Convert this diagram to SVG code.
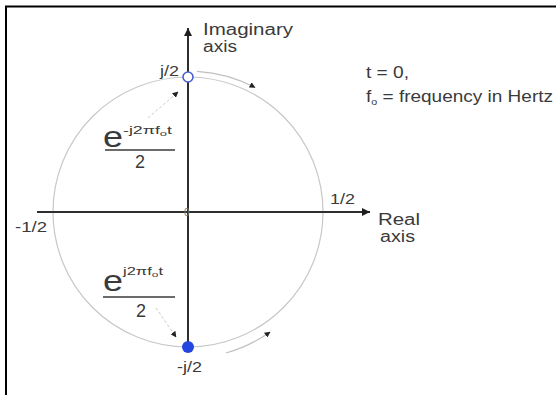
<svg xmlns="http://www.w3.org/2000/svg" width="556" height="395" viewBox="0 0 556 395">
<defs>
<style>
text{font-family:"Liberation Sans",Arial,sans-serif;fill:#3a3a3a}
.lbl{font-size:16px}
.sm{font-size:14px}
.circ{fill:none;stroke:#c8c8c8;stroke-width:1.2}
.arc{fill:none;stroke:#c0c0c0;stroke-width:1.2}
.axis{stroke:#2e2e2e;stroke-width:2;fill:none}
.lead{stroke:#cccccc;stroke-width:1;stroke-dasharray:3 2;fill:none}
.bar{stroke:#3a3a3a;stroke-width:1.5}
</style>
<marker id="ah" viewBox="0 0 10 10" refX="10" refY="5" markerWidth="14" markerHeight="8" markerUnits="userSpaceOnUse" orient="auto">
<path d="M0,0 L10,5 L0,10 Z" fill="#1e1e1e"/>
</marker>
<marker id="sa" viewBox="0 0 10 10" refX="9" refY="5" markerWidth="6" markerHeight="6" markerUnits="userSpaceOnUse" orient="auto">
<path d="M0,0 L10,5 L0,10 Z" fill="#222"/>
</marker>
</defs>
<rect width="556" height="395" fill="#fff"/>
<g id="frame">
<path d="M5,6.5 H556 M6,6 V395" stroke="#000" stroke-width="2" fill="none"/>
</g>
<g id="circle">
<circle class="circ" cx="188" cy="212" r="135"/>
</g>
<g id="connectors">
<line class="axis" x1="188" y1="347" x2="188" y2="28" marker-end="url(#ah)"/>
<line class="axis" x1="37" y1="212" x2="370" y2="212" marker-end="url(#ah)"/>
<path class="arc" d="M197,71.3 A141,141 0 0 1 255,87.5" marker-end="url(#sa)"/>
<path class="arc" d="M226,353 A145,145 0 0 0 270,332" marker-end="url(#sa)"/>
<path class="lead" d="M148,118 L178,92" marker-end="url(#sa)"/>
<path class="lead" d="M156,308 L176,337" marker-end="url(#sa)"/>
</g>
<g id="point-top">
<circle cx="188" cy="77" r="5" fill="#fff" stroke="#4a5fcf" stroke-width="1.6"/>
<text class="sm" x="160" y="76" textLength="19" lengthAdjust="spacingAndGlyphs">j/2</text>
</g>
<g id="point-bottom">
<circle cx="188" cy="347" r="6" fill="#2446e0"/>
<text class="sm" x="177" y="372" textLength="25" lengthAdjust="spacingAndGlyphs">-j/2</text>
</g>
<g id="imag-label">
<text class="lbl" x="203" y="35" textLength="90" lengthAdjust="spacingAndGlyphs">Imaginary</text>
<text class="lbl" x="203" y="52" textLength="34" lengthAdjust="spacingAndGlyphs">axis</text>
</g>
<g id="real-label">
<text class="lbl" x="378" y="225" textLength="42" lengthAdjust="spacingAndGlyphs">Real</text>
<text class="lbl" x="380" y="242" textLength="35" lengthAdjust="spacingAndGlyphs">axis</text>
</g>
<g id="ticks">
<text class="sm" x="15" y="232" textLength="32" lengthAdjust="spacingAndGlyphs">-1/2</text>
<text class="sm" x="330" y="204" textLength="25" lengthAdjust="spacingAndGlyphs">1/2</text>
<text x="184" y="216" style="font-size:10px;fill:#777">0</text>
</g>
<g id="notes">
<text class="lbl" x="366" y="78" textLength="43" lengthAdjust="spacingAndGlyphs">t = 0,</text>
<text class="lbl" x="366" y="102" textLength="187" lengthAdjust="spacingAndGlyphs">f<tspan dy="3" style="font-size:9px">o</tspan><tspan dy="-3"> = frequency in Hertz</tspan></text>
</g>
<g id="frac-top">
<text x="103" y="147" style="font-size:30px" textLength="20" lengthAdjust="spacingAndGlyphs">e</text>
<text x="123" y="134" style="font-size:11px" textLength="49" lengthAdjust="spacingAndGlyphs">-j2πf<tspan dy="2" style="font-size:8px">o</tspan><tspan dy="-2">t</tspan></text>
<line class="bar" x1="105" y1="150" x2="175" y2="150"/>
<text x="140" y="168" text-anchor="middle" style="font-size:18px">2</text>
</g>
<g id="frac-bottom">
<text x="103" y="291" style="font-size:30px" textLength="20" lengthAdjust="spacingAndGlyphs">e</text>
<text x="123" y="275" style="font-size:11px" textLength="40" lengthAdjust="spacingAndGlyphs">j2πf<tspan dy="2" style="font-size:8px">o</tspan><tspan dy="-2">t</tspan></text>
<line class="bar" x1="103" y1="297" x2="175" y2="297"/>
<text x="141" y="317" text-anchor="middle" style="font-size:18px">2</text>
</g>
</svg>
